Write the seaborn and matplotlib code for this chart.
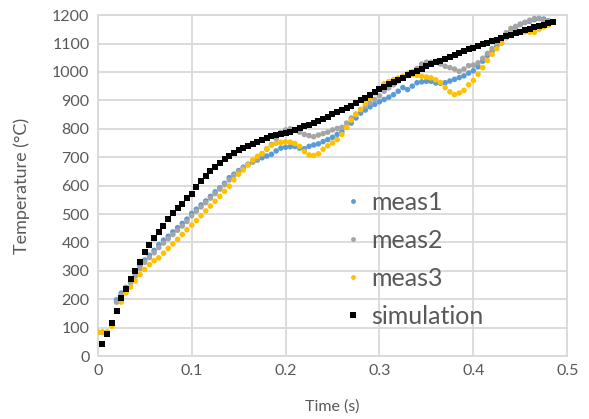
import pandas as pd
import numpy as np
import seaborn as sns
import matplotlib.pyplot as plt

step = 0.005

meas1 = [84, 84, 84, 115, 198, 222, 242, 262, 290, 318,
         338, 355, 372, 392, 408, 422, 437, 452, 467, 482,
         502, 517, 532, 546, 562, 578, 592, 608, 628, 640,
         653, 665, 675, 683, 690, 698, 704, 710, 722, 732,
         735, 737, 738, 732, 730, 738, 743, 747, 755, 762,
         770, 780, 790, 805, 820, 838, 855, 866, 877, 886,
         895, 903, 911, 920, 932, 945, 938, 950, 962, 965,
         967, 967, 961, 960, 962, 968, 974, 980, 986, 996,
         1004, 1018, 1038, 1058, 1073, 1090, 1102, 1124, 1143, 1156,
         1168, 1174, 1178, 1184, 1188, 1186, 1180]

meas2 = [84, 84, 84, 115, 190, 215, 238, 258, 282, 308,
         330, 347, 364, 382, 398, 413, 428, 443, 458, 474,
         494, 510, 525, 540, 556, 572, 588, 603, 620, 636,
         650, 662, 674, 684, 694, 712, 728, 745, 765, 787,
         796, 800, 796, 788, 780, 776, 772, 778, 783, 788,
         796, 801, 805, 820, 838, 852, 867, 880, 891, 903,
         916, 932, 944, 955, 968, 980, 990, 1000, 1012, 1028,
         1034, 1034, 1036, 1028, 1020, 1015, 1010, 1002, 1010, 1022,
         1024, 1032, 1048, 1065, 1082, 1102, 1120, 1138, 1153, 1160,
         1166, 1174, 1182, 1188, 1188, 1182, 1177]

meas3 = [84, 84, 84, 105, 160, 190, 222, 243, 265, 287,
         305, 322, 336, 346, 362, 379, 395, 411, 428, 445,
         461, 477, 494, 511, 528, 545, 562, 580, 598, 620,
         640, 655, 672, 690, 703, 712, 730, 742, 749, 752,
         754, 753, 748, 738, 720, 708, 706, 712, 728, 740,
         750, 762, 780, 805, 830, 850, 868, 888, 908, 926,
         942, 958, 966, 973, 978, 985, 995, 990, 988, 985,
         982, 979, 972, 963, 945, 930, 920, 926, 935, 955,
         970, 992, 1015, 1040, 1062, 1082, 1102, 1120, 1136, 1141,
         1141, 1141, 1140, 1139, 1150, 1158, 1165]

simulation = [42, 78, 118, 160, 205, 238, 270, 300, 333, 366,
              392, 414, 436, 458, 482, 505, 520, 537, 555, 572,
              595, 618, 634, 652, 666, 680, 692, 703, 715, 724,
              731, 738, 745, 754, 762, 768, 773, 777, 781, 785,
              790, 795, 801, 808, 815, 822, 828, 836, 843, 851,
              858, 866, 873, 881, 890, 900, 910, 918, 928, 940,
              948, 956, 964, 972, 980, 988, 996, 1002, 1012, 1022,
              1028, 1034, 1040, 1046, 1053, 1059, 1066, 1072, 1079, 1085,
              1091, 1097, 1102, 1108, 1114, 1120, 1125, 1131, 1136, 1142,
              1147, 1152, 1157, 1162, 1166, 1171, 1176]

t_meas = np.arange(len(meas1)) * step
t_sim = (np.arange(len(simulation)) + 1) * step

df_meas = pd.DataFrame({
    "time": np.concatenate([t_meas, t_meas, t_meas]),
    "temp": meas1 + meas2 + meas3,
    "series": ["meas1"] * len(meas1) + ["meas2"] * len(meas2) + ["meas3"] * len(meas3),
})
df_sim = pd.DataFrame({"time": t_sim, "temp": simulation})

colors = {"meas1": "#5B9BD5", "meas2": "#A5A5A5", "meas3": "#FFC000"}
grid_col = "#D9D9D9"
text_col = "#595959"

sns.set_style("white")
plt.rcParams["font.family"] = ["Lato", "DejaVu Sans"]

fig, ax = plt.subplots(figsize=(5.89, 4.19), dpi=100)
fig.subplots_adjust(left=0.166, right=0.963, top=0.964, bottom=0.150)

sns.scatterplot(data=df_meas, x="time", y="temp", hue="series", palette=colors,
                s=16, linewidth=0, ax=ax, legend=False, zorder=3)
sns.scatterplot(data=df_sim, x="time", y="temp", color="black", marker="s",
                s=15, linewidth=0, ax=ax, legend=False, zorder=4)

ax.set_xlim(0, 0.5)
ax.set_ylim(0, 1200)
ax.set_xticks([0, 0.1, 0.2, 0.3, 0.4, 0.5])
ax.set_xticklabels(["0", "0.1", "0.2", "0.3", "0.4", "0.5"])
ax.set_yticks(range(0, 1201, 100))
ax.grid(True, color=grid_col, linewidth=1.3)
ax.set_axisbelow(True)
for sp in ax.spines.values():
    sp.set_color(grid_col)
    sp.set_linewidth(1.3)
ax.tick_params(length=0, labelsize=11.5, labelcolor=text_col, pad=6)
ax.set_xlabel("Time (s)", fontsize=11.5, color=text_col, labelpad=15)
ax.set_ylabel("Temperature (\u00b0C)", fontsize=13, color=text_col, labelpad=16)

handles = [plt.Line2D([], [], linestyle="", marker="o", markersize=3.5,
                      markerfacecolor=colors[k], markeredgewidth=0) for k in colors]
handles.append(plt.Line2D([], [], linestyle="", marker="s", markersize=4,
                          markerfacecolor="black", markeredgewidth=0))
leg = ax.legend(handles, ["meas1", "meas2", "meas3", "simulation"],
                loc="upper left", bbox_to_anchor=(0.47, 0.55), frameon=False,
                fontsize=18, labelspacing=0.6, handletextpad=0.2, handlelength=1.0)
for txt in leg.get_texts():
    txt.set_color(text_col)

fig.savefig("out.png", dpi=100)
